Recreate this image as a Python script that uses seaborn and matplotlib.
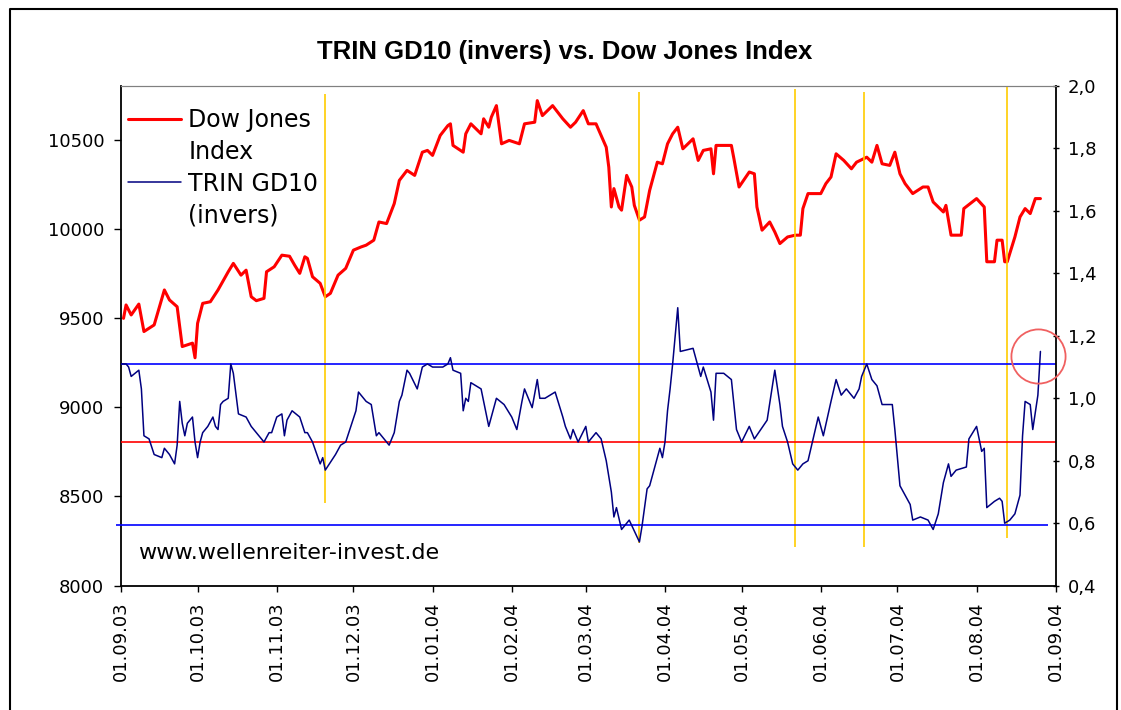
import numpy as np
import pandas as pd
import matplotlib
matplotlib.use('Agg')
import matplotlib.pyplot as plt
import matplotlib.dates as mdates
from matplotlib.lines import Line2D
from matplotlib.ticker import FuncFormatter
import seaborn as sns

# day offsets are counted from 01.09.2003
start = pd.Timestamp('2003-09-01')
end = pd.Timestamp('2004-09-01')

dow_day = [1, 2, 4, 7, 9, 13, 17, 19, 22, 24, 28, 29, 30, 32, 35, 38, 42, 44, 47, 49,
           51, 53, 56, 57, 60, 63, 66, 68, 70, 72, 73, 75, 78, 80, 82, 85, 88, 91, 94, 96,
           99, 101, 104, 107, 109, 112, 115, 118, 120, 122, 125, 128, 129, 130, 134, 135,
           137, 141, 142, 144, 145, 147, 149, 152, 156, 158, 162, 163, 165, 169, 173, 176,
           178, 181, 183, 186, 188, 190, 191, 192, 193, 195, 196, 198, 200, 201, 203, 205,
           207, 210, 212, 214, 216, 218, 220, 224, 226, 228, 231, 232, 233, 239, 240, 242,
           246, 248, 249, 251, 254, 256, 258, 261, 264, 266, 267, 269, 274, 276, 278, 280,
           283, 286, 288, 292, 294, 296, 298, 301, 303, 305, 307, 310, 314, 316, 318, 322,
           323, 324, 325, 329, 330, 335, 338, 339, 342, 343, 345, 346, 347, 348, 350, 352,
           354, 356, 358, 360]
dow_value = [9498, 9573, 9517, 9578, 9424, 9461, 9657, 9601, 9563, 9340, 9359, 9277, 9470,
             9582, 9591, 9657, 9759, 9806, 9740, 9768, 9619, 9597, 9610, 9759, 9787, 9852,
             9846, 9796, 9750, 9843, 9834, 9731, 9694, 9619, 9638, 9740, 9778, 9880, 9898,
             9908, 9936, 10038, 10029, 10141, 10271, 10327, 10299, 10429, 10439, 10411,
             10523, 10578, 10588, 10467, 10429, 10532, 10588, 10532, 10616, 10569, 10625,
             10690, 10476, 10495, 10476, 10588, 10597, 10718, 10634, 10690, 10616, 10569,
             10597, 10662, 10588, 10588, 10523, 10457, 10345, 10122, 10225, 10122, 10104,
             10299, 10234, 10131, 10048, 10066, 10215, 10373, 10364, 10476, 10532, 10569,
             10448, 10504, 10383, 10439, 10448, 10308, 10467, 10467, 10392, 10234, 10318,
             10308, 10122, 9992, 10038, 9982, 9917, 9954, 9964, 9964, 10113, 10197, 10197,
             10253, 10290, 10420, 10383, 10336, 10373, 10401, 10373, 10467, 10364, 10355,
             10429, 10308, 10253, 10197, 10234, 10234, 10150, 10094, 10131, 10048, 9964,
             9964, 10113, 10169, 10122, 9815, 9815, 9936, 9936, 9815, 9815, 9862, 9954,
             10066, 10113, 10085, 10169, 10169]

trin_day = [0, 2, 3, 4, 7, 8, 9, 11, 13, 16, 17, 19, 21, 22, 23, 24, 25, 26, 28, 29, 30,
            31, 32, 34, 36, 37, 38, 39, 40, 42, 43, 44, 46, 49, 51, 53, 56, 58, 59, 61, 63,
            64, 65, 67, 70, 72, 73, 75, 78, 79, 80, 84, 86, 88, 92, 93, 96, 98, 100, 101,
            105, 107, 109, 110, 112, 113, 116, 118, 120, 122, 126, 128, 129, 130, 133, 134,
            135, 136, 137, 141, 142, 144, 145, 147, 150, 153, 155, 157, 158, 161, 163, 164,
            166, 170, 173, 174, 176, 177, 179, 182, 183, 186, 188, 190, 192, 193, 194, 196,
            199, 203, 204, 206, 207, 210, 211, 212, 213, 214, 215, 216, 217, 218, 219, 224,
            226, 227, 228, 231, 232, 233, 236, 239, 241, 243, 246, 248, 253, 256, 258, 259,
            261, 263, 265, 267, 269, 271, 273, 275, 278, 280, 282, 284, 287, 289, 290, 292,
            294, 296, 298, 302, 303, 305, 307, 309, 310, 313, 316, 318, 320, 322, 324, 325,
            327, 331, 332, 335, 337, 338, 339, 342, 344, 345, 346, 348, 350, 352, 353, 354,
            356, 357, 359, 360]
trin_value = [1.11, 1.11, 1.10, 1.07, 1.09, 1.03, 0.88, 0.87, 0.82, 0.81, 0.84, 0.82, 0.79,
              0.85, 0.99, 0.92, 0.88, 0.92, 0.94, 0.86, 0.81, 0.86, 0.89, 0.91, 0.94, 0.91,
              0.90, 0.98, 0.99, 1.00, 1.11, 1.08, 0.95, 0.94, 0.91, 0.89, 0.86, 0.89, 0.89,
              0.94, 0.95, 0.88, 0.93, 0.96, 0.94, 0.89, 0.89, 0.86, 0.79, 0.81, 0.77, 0.82,
              0.85, 0.86, 0.96, 1.02, 0.99, 0.98, 0.88, 0.89, 0.85, 0.89, 0.99, 1.01, 1.09,
              1.08, 1.03, 1.10, 1.11, 1.10, 1.10, 1.11, 1.13, 1.09, 1.08, 0.96, 1.00, 0.99,
              1.05, 1.03, 0.99, 0.91, 0.94, 1.00, 0.98, 0.94, 0.90, 0.99, 1.03, 0.97, 1.06,
              1.00, 1.00, 1.02, 0.94, 0.91, 0.87, 0.90, 0.86, 0.91, 0.86, 0.89, 0.87, 0.80,
              0.70, 0.62, 0.65, 0.58, 0.61, 0.54, 0.59, 0.71, 0.72, 0.81, 0.84, 0.81, 0.86,
              0.96, 1.03, 1.11, 1.20, 1.29, 1.15, 1.16, 1.10, 1.07, 1.10, 1.02, 0.93, 1.08,
              1.08, 1.06, 0.90, 0.86, 0.91, 0.87, 0.93, 1.09, 0.98, 0.91, 0.86, 0.79, 0.77,
              0.79, 0.80, 0.87, 0.94, 0.88, 0.99, 1.06, 1.01, 1.03, 1.00, 1.03, 1.07, 1.11,
              1.06, 1.04, 0.98, 0.98, 0.90, 0.72, 0.69, 0.66, 0.61, 0.62, 0.61, 0.58, 0.63,
              0.73, 0.79, 0.75, 0.77, 0.78, 0.87, 0.91, 0.83, 0.84, 0.65, 0.67, 0.68, 0.67,
              0.60, 0.61, 0.63, 0.69, 0.88, 0.99, 0.98, 0.90, 1.01, 1.15]

# trin bands (upper / middle / lower)
band_upper = 1.11
band_middle = 0.86
band_lower = 0.595

# marked turning points (yellow lines), in TRIN units
signal_dates = ['2003-11-20', '2004-03-22', '2004-05-22', '2004-06-18', '2004-08-13']
signal_low = [0.665, 0.537, 0.524, 0.524, 0.553]
signal_high = [1.975, 1.982, 1.991, 1.98, 2.0]

alert_date = '2004-08-25'
alert_value = 1.134

dow = pd.DataFrame({'date': start + pd.to_timedelta(dow_day, unit='D'), 'value': dow_value})
trin = pd.DataFrame({'date': start + pd.to_timedelta(trin_day, unit='D'), 'value': trin_value})

sns.set_style('white')
plt.rcParams['font.family'] = ['DejaVu Sans']
plt.rcParams['text.color'] = 'black'

fig = plt.figure(figsize=(11.21, 7.10), dpi=100)
ax = fig.add_axes([0.1079, 0.1751, 0.8339, 0.7038])
ax2 = ax.twinx()

sns.lineplot(data=dow, x='date', y='value', ax=ax, color='#FF0000', linewidth=2.2)

# yellow signal lines, bands and the trin line on the right axis
ax2.vlines(mdates.date2num(pd.to_datetime(signal_dates)), signal_low, signal_high,
           color='#FFCC00', linewidth=1.2, zorder=1)
ax2.axhline(band_upper, color='#0000FF', linewidth=1.2, zorder=2)
ax2.axhline(band_middle, color='#FF0000', linewidth=1.2, zorder=2)
ax2.hlines(band_lower, mdates.date2num(start - pd.Timedelta(days=2)),
           mdates.date2num(pd.Timestamp('2004-08-29')), color='#0000FF', linewidth=1.2,
           zorder=2, clip_on=False)
sns.lineplot(data=trin, x='date', y='value', ax=ax2, color='#000080', linewidth=1.1, zorder=3)
ax2.plot([mdates.date2num(pd.Timestamp(alert_date))], [alert_value], marker='o', ms=39,
         mfc='none', mec='#F06060', mew=1.3, clip_on=False, zorder=4)

ax.set_xlim(start, end)
ax.set_ylim(8000, 10800)
ax.set_yticks(range(8000, 10501, 500))
ax2.set_ylim(0.4, 2.0)
ax2.set_yticks(np.arange(0.4, 2.01, 0.2))
ax2.yaxis.set_major_formatter(FuncFormatter(lambda v, p: f'{v:.1f}'.replace('.', ',')))
ax.xaxis.set_major_locator(mdates.MonthLocator())
ax.xaxis.set_major_formatter(mdates.DateFormatter('%d.%m.%y'))
ax.set_xlabel('')
ax.set_ylabel('')
ax2.set_ylabel('')

ax.tick_params(axis='y', left=True, direction='out', length=5, width=1, pad=7,
               labelsize=13, colors='black')
ax.tick_params(axis='x', bottom=True, direction='out', length=4.5, width=1, pad=7,
               labelsize=13, labelrotation=90, colors='black')
ax2.tick_params(axis='y', right=True, direction='inout', length=5, width=1, pad=6,
                labelsize=13, colors='black')

for s in ['left', 'bottom']:
    ax.spines[s].set_color('black')
    ax.spines[s].set_linewidth(1.3)
    ax2.spines[s].set_visible(False)
ax.spines['right'].set_visible(False)
ax2.spines['right'].set_color('black')
ax2.spines['right'].set_linewidth(1.3)
ax.spines['top'].set_color('#808080')
ax2.spines['top'].set_color('#808080')

fig.text(565 / 1121, 1 - 52 / 710, 'TRIN GD10 (invers) vs. Dow Jones Index',
         ha='center', va='center', fontsize=18.5, fontweight='bold', family='Liberation Sans',
         color='black')
fig.text(138 / 1121, 1 - 553 / 710, 'www.wellenreiter-invest.de', ha='left', va='center',
         fontsize=16, color='black')

handles = [Line2D([], [], color='#FF0000', linewidth=2.2), Line2D([], [], color='none'),
           Line2D([], [], color='#000080', linewidth=1.1), Line2D([], [], color='none')]
labels = ['Dow Jones', 'Index', 'TRIN GD10', '(invers)']
leg = fig.legend(handles, labels, loc='upper left', bbox_to_anchor=(128 / 1121, 1 - 108 / 710),
                 frameon=False, fontsize=17, handlelength=2.25, handletextpad=0.3,
                 labelspacing=0.33, borderpad=0, borderaxespad=0)
for t in leg.get_texts():
    t.set_color('black')

# chart area border
fig.add_artist(Line2D([10 / 1121, 10 / 1121, 1117 / 1121, 1117 / 1121],
                      [0, 1 - 9 / 710, 1 - 9 / 710, 0], transform=fig.transFigure,
                      color='black', linewidth=1.5))

fig.savefig('out.png', dpi=100)
